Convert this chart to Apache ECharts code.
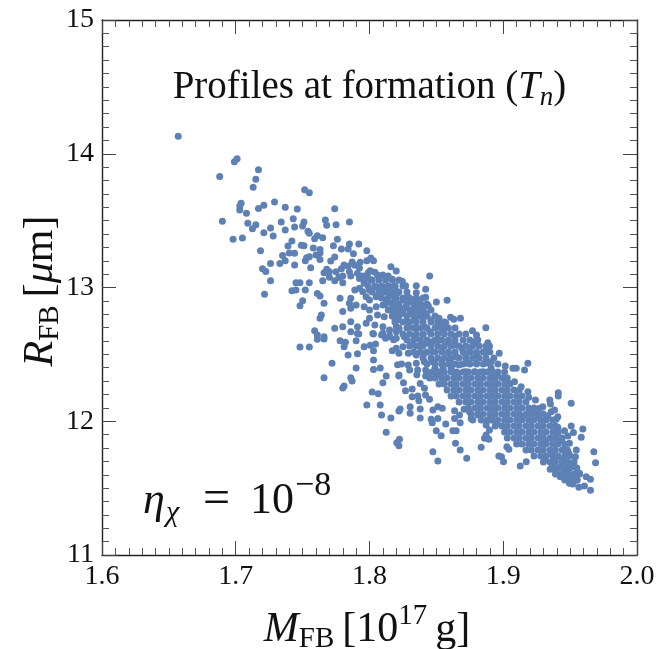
<!DOCTYPE html>
<html>
<head>
<meta charset="utf-8">
<script src="https://cdn.jsdelivr.net/npm/echarts@6/dist/echarts.min.js"></script>
<style>
  html, body { margin: 0; padding: 0; background: #fff; }
  #chart { width: 659px; height: 649px; }
</style>
</head>
<body>
<div id="chart"></div>
<script>
// axis tick labels
var xTickLabels = ['1.6', '1.7', '1.8', '1.9', '2.0'];
var yTickLabels = ['11', '12', '13', '14', '15'];

// scattered points [M_FB, R_FB]
var upperPts = [
  [1.657,14.13],[1.701,13.963],[1.699,13.94],[1.688,13.83],[1.717,13.88],[1.715,13.81],[1.713,13.75],
  [1.704,13.63],[1.703,13.61],[1.703,13.58],[1.708,13.555],[1.729,13.64],[1.721,13.615],[1.717,13.59],
  [1.737,13.60],[1.690,13.495],[1.709,13.48],[1.715,13.47],[1.7125,13.44],[1.726,13.445],[1.721,13.41],
  [1.728,13.385],[1.734,13.49],[1.737,13.43],[1.698,13.36],[1.705,13.37],[1.7185,13.275],[1.739,13.31],
  [1.735,13.24],[1.737,13.20],[1.733,13.18],[1.726,13.18],[1.72,13.14],[1.7225,13.12],[1.726,13.05],[1.7215,12.95],
  [1.7515,13.73],[1.755,13.709],[1.746,13.587],[1.774,13.589],[1.743,13.514],[1.751,13.49],[1.750,13.46],
  [1.767,13.505],[1.768,13.465],[1.775,13.47],[1.785,13.49],[1.744,13.452],[1.754,13.42],[1.755,13.405],
  [1.759,13.365],[1.761,13.387],[1.765,13.372],[1.776,13.36],[1.742,13.348],[1.749,13.315],[1.751,13.313],
  [1.758,13.295],[1.763,13.285],[1.763,13.258],[1.773,13.313],[1.779,13.288],[1.785,13.325],[1.784,13.288],
  [1.792,13.325],[1.798,13.275],[1.788,13.253],[1.740,13.258],[1.744,13.256],[1.753,13.223],[1.755,13.23],
  [1.760,13.243],[1.763,13.21],[1.752,13.20],[1.744,13.168],[1.756,13.148],[1.771,13.198],[1.774,13.228],
  [1.779,13.14],[1.781,13.168],[1.784,13.158],[1.787,13.19],[1.789,13.166],[1.793,13.188],[1.7925,13.146],
  [1.798,13.20],[1.801,13.22],[1.803,13.20],[1.768,13.136],[1.766,13.11],[1.770,13.118],[1.775,13.118],
  [1.770,13.076],[1.765,13.051],[1.774,13.051],[1.777,13.074],[1.780,13.086],[1.780,13.036],[1.785,13.118],
  [1.786,13.086],[1.791,13.106],[1.7925,13.068],[1.795,13.086],[1.799,13.11],[1.8005,13.126],[1.804,13.114],
  [1.806,13.094],[1.810,13.094],[1.814,13.086],[1.817,13.061],[1.820,13.123],[1.819,13.014],[1.799,13.068],
  [1.801,13.056],[1.796,13.031],[1.7925,12.994],[1.789,12.981],[1.795,12.969],[1.800,12.981],[1.805,13.006],
  [1.810,13.006],[1.809,12.956],[1.815,12.981],[1.819,12.956],[1.805,12.931],[1.800,12.907],[1.7975,12.931],
  [1.786,12.919],[1.785,12.882],[1.790,12.869],[1.786,12.845],[1.796,12.857],[1.800,12.832],[1.805,12.857],
  [1.810,12.869],[1.8125,12.907],[1.817,12.882],[1.820,12.919],[1.816,12.832],[1.806,12.794],[1.811,12.782],
  [1.819,12.77],[1.800,12.77],[1.7975,12.732],[1.804,12.72],[1.810,12.707],[1.815,12.682],[1.820,12.707],
  [1.8025,12.657],[1.809,12.645],[1.763,12.936],[1.761,12.956],[1.766,12.882],[1.778,12.919],[1.780,12.82],
  [1.764,12.794],[1.763,12.77],[1.745,13.036],[1.748,13.036],[1.742,12.976],[1.745,12.981],[1.752,12.981],
  [1.755,13.036],[1.750,12.901],[1.748,12.864],[1.780,12.707],[1.774,12.695],[1.786,12.744],[1.791,12.707],
  [1.791,12.657],[1.759,12.677],[1.761,12.645],[1.766,12.632]
];

var lowerLeftPts = [
  [1.761,12.613],[1.766,12.615],[1.786,12.67],[1.748,12.555],[1.755,12.555],[1.778,12.602],[1.782,12.59],
  [1.781,12.557],[1.790,12.602],[1.792,12.652],[1.796,12.557],[1.8005,12.568],[1.8045,12.578],[1.803,12.528],
  [1.803,12.652],[1.784,12.495],[1.791,12.505],[1.772,12.433],[1.803,12.458],[1.790,12.398],[1.803,12.386],
  [1.808,12.398],[1.8125,12.338],[1.810,12.288],[1.786,12.326],[1.787,12.301],[1.766,12.326],[1.781,12.264],
  [1.780,12.249],[1.802,12.219],[1.8065,12.206],[1.798,12.122],[1.808,12.122],[1.809,12.047],[1.816,12.024],
  [1.8125,11.917],[1.822,12.077],[1.821,12.423],[1.822,12.338],[1.817,12.528],[1.81,12.66],[1.815,12.64],
  [1.82,12.67],[1.812,12.62],[1.818,12.61],
  [1.8254,12.288],[1.8269,12.228],[1.8319,12.241],[1.8354,12.348],[1.8379,12.283],[1.8361,12.189],
  [1.8369,12.154],[1.8411,12.246],[1.8419,12.196],[1.8449,12.164],[1.8319,12.184],[1.8304,12.109],
  [1.8304,12.059],[1.8229,12.092],[1.8379,12.092],[1.8474,12.084],[1.8511,12.109],[1.8544,12.097],
  [1.8461,12.015],[1.8469,11.989],[1.8511,12.02],[1.857,11.979],[1.8499,11.929],[1.8536,11.892],
  [1.8636,12.079],[1.8636,12.02],[1.8673,12.047],[1.8678,11.989],[1.8648,11.929],[1.8623,11.929],
  [1.8643,11.835],[1.8678,11.785],[1.8224,11.865],[1.8204,11.84],[1.822,11.817],[1.8474,11.772],
  [1.8511,11.703],[1.8727,11.723],[1.8835,11.805],[1.886,11.872],[1.8892,11.865],[1.8872,11.897],
  [1.8897,11.935],[1.8967,11.74],[1.8707,12.089],[1.8748,12.071],[1.876,12.02],[1.8772,12.009],
  [1.881,12.047],[1.8835,12.009],[1.8872,11.972],[1.891,12.009],[1.8951,11.985],[1.8379,12.025]
];

var middlePts = [
  [1.816,13.156],[1.845,13.086],[1.8245,13.046],[1.827,13.014],[1.835,13.014],[1.842,12.986],[1.815,13.006],
  [1.819,12.994],[1.821,12.961],[1.816,12.944],[1.835,12.961],[1.829,12.927],[1.842,12.927],[1.850,12.892],
  [1.858,12.904],[1.825,12.907],[1.832,12.894],[1.837,12.901],[1.819,12.869],[1.822,12.844],[1.827,12.857],
  [1.834,12.857],[1.839,12.869],[1.844,12.862],[1.820,12.82],[1.825,12.807],[1.831,12.807],[1.837,12.82],
  [1.842,12.807],[1.821,12.757],[1.827,12.744],[1.834,12.757],[1.840,12.77],[1.846,12.757],[1.852,12.77],
  [1.8606,12.777],[1.863,12.762],[1.868,12.77],[1.857,12.737],[1.854,12.727],[1.850,12.702],[1.855,12.682],
  [1.822,12.687],[1.829,12.702],[1.835,12.695],[1.841,12.707],[1.845,12.67],[1.840,12.645],[1.834,12.632],
  [1.826,12.632],[1.820,12.62],[1.815,12.632],[1.8636,12.637],[1.877,12.677],[1.880,12.645],[1.887,12.70],
  [1.881,12.607],[1.8785,12.583],[1.8885,12.587],[1.8897,12.563],[1.887,12.52],[1.875,12.533],[1.880,12.495],
  [1.872,12.495],[1.869,12.545],[1.8636,12.57],[1.859,12.595],[1.852,12.607],[1.847,12.595],[1.842,12.583],
  [1.837,12.563],[1.831,12.57],[1.825,12.557],[1.820,12.545],[1.822,12.508],[1.829,12.508],[1.835,12.495],
  [1.841,12.508],[1.847,12.52],[1.854,12.533],[1.859,12.508],[1.865,12.483],[1.860,12.458],[1.854,12.458],
  [1.847,12.445],[1.841,12.445],[1.835,12.433],[1.829,12.421],[1.824,12.428],[1.830,12.383],[1.836,12.383],
  [1.842,12.383],[1.849,12.396],[1.855,12.396],[1.861,12.396],[1.867,12.421],[1.8735,12.433],[1.880,12.433],
  [1.886,12.433],[1.891,12.396],[1.885,12.371],[1.8785,12.371],[1.872,12.371],[1.866,12.358],[1.850,12.346],
  [1.842,12.338],[1.822,12.346],[1.893,12.333],[1.895,12.358],[1.897,12.508]
];

var lowerRightPts = [
  [1.891,12.445],[1.9015,12.413],[1.9072,12.396],[1.9097,12.396],[1.9184,12.433],[1.9159,12.383],
  [1.8951,12.346],[1.9009,12.321],[1.9034,12.288],[1.9084,12.296],[1.9134,12.258],[1.9184,12.221],
  [1.9191,12.179],[1.9241,12.159],[1.9348,12.159],[1.9353,12.129],[1.9411,12.213],[1.9411,12.189],
  [1.9508,12.134],[1.9271,12.097],[1.9296,12.109],[1.9196,12.084],[1.9221,12.071],[1.9358,12.071],
  [1.9383,12.084],[1.9408,12.034],[1.9333,12.039],[1.9258,12.039],[1.9146,12.034],
  [1.8987,11.735],[1.9002,11.698],[1.9027,11.81],[1.9042,11.79],[1.9127,11.665],[1.9172,11.698],
  [1.9351,11.641],[1.9508,11.965],[1.9525,11.915],[1.9595,11.942],[1.9583,11.88],[1.9546,11.785],
  [1.954,11.735],[1.9677,11.772],[1.969,11.69],[1.962,11.585],[1.9652,11.566],[1.9607,11.516],
  [1.9652,11.484],[1.9565,11.506],[1.9495,11.536],[1.952,11.531],[1.9508,11.566],[1.9553,11.561],
  [1.957,11.611],[1.9515,11.598],[1.947,11.585],[1.945,11.611],[1.9426,11.585],[1.9396,11.623],
  [1.9366,11.656],[1.9433,11.66],[1.9483,11.641],[1.9533,11.66],[1.9495,11.685],[1.9445,11.71],
  [1.949,11.76],[1.9458,11.79],[1.9495,11.835],[1.9433,11.86],[1.9483,11.89],[1.9458,11.929],
  [1.9408,11.91],[1.9408,11.955],[1.9396,12.015],[1.9321,11.84],[1.9358,11.76],[1.9383,11.698],
  [1.9408,11.735],[1.9308,11.71]
];

// the dense ridge, row by row: R of the row and the M values along it
var ridgeRowR = [13.056, 13.011, 12.966, 12.922, 12.877, 12.832, 12.787, 12.742, 12.697,
                 12.652, 12.607, 12.563, 12.518, 12.473, 12.428];
var ridgeRowM = [
  [1.796,1.802,1.807,1.812,1.817,1.822],
  [1.799,1.804,1.809,1.814,1.819,1.825],
  [1.802,1.807,1.812,1.817,1.822,1.828],
  [1.809,1.814,1.819,1.825,1.830,1.835,1.840],
  [1.812,1.817,1.822,1.828,1.833,1.838,1.843],
  [1.814,1.819,1.825,1.830,1.835,1.840,1.846],
  [1.817,1.822,1.828,1.833,1.838,1.843,1.849],
  [1.819,1.825,1.830,1.835,1.840,1.846,1.851,1.856],
  [1.822,1.828,1.833,1.838,1.843,1.849,1.854,1.859,1.864],
  [1.825,1.830,1.835,1.840,1.846,1.851,1.856,1.861,1.867,1.872],
  [1.828,1.833,1.838,1.843,1.849,1.854,1.859,1.864,1.870,1.875,1.880],
  [1.830,1.835,1.840,1.846,1.851,1.856,1.861,1.867,1.872,1.877,1.882,1.887],
  [1.833,1.838,1.843,1.849,1.854,1.859,1.864,1.870,1.875,1.880,1.885,1.890],
  [1.840,1.846,1.851,1.856,1.861,1.867,1.872,1.877,1.882,1.887,1.893],
  [1.843,1.849,1.854,1.859,1.864,1.870,1.875,1.880,1.885,1.890,1.896]
];

// the dense core further down
var coreRowR = [12.368, 12.323, 12.279, 12.234, 12.189, 12.144, 12.099, 12.054, 12.009, 11.965,
                11.920, 11.875, 11.830, 11.785, 11.740, 11.695, 11.650, 11.606, 11.561];
var coreRowM = [
  [1.843,1.847,1.852,1.856,1.861,1.865,1.870,1.874,1.879,1.883,1.888,1.892,1.896,1.901],
  [1.845,1.849,1.854,1.858,1.863,1.867,1.872,1.876,1.881,1.885,1.890,1.894,1.899,1.903],
  [1.852,1.856,1.861,1.865,1.870,1.874,1.879,1.883,1.888,1.892,1.896,1.901,1.905],
  [1.858,1.863,1.867,1.872,1.876,1.881,1.885,1.890,1.894,1.899,1.903,1.908,1.912],
  [1.861,1.865,1.870,1.874,1.879,1.883,1.888,1.892,1.896,1.901,1.905,1.910,1.914],
  [1.867,1.872,1.876,1.881,1.885,1.890,1.894,1.899,1.903,1.908,1.912,1.917],
  [1.874,1.879,1.883,1.888,1.892,1.896,1.901,1.905,1.910,1.914,1.919,1.923],
  [1.876,1.881,1.885,1.890,1.894,1.899,1.903,1.908,1.912,1.917,1.921,1.926,1.930],
  [1.888,1.892,1.896,1.901,1.905,1.910,1.914,1.919,1.923,1.928,1.932,1.937],
  [1.894,1.899,1.903,1.908,1.912,1.917,1.921,1.926,1.930,1.935,1.939],
  [1.901,1.905,1.910,1.914,1.919,1.923,1.928,1.932,1.937,1.941],
  [1.903,1.908,1.912,1.917,1.921,1.926,1.930,1.935,1.939,1.944],
  [1.910,1.914,1.919,1.923,1.928,1.932,1.937,1.941,1.946],
  [1.917,1.921,1.926,1.930,1.935,1.939,1.944,1.948],
  [1.923,1.928,1.932,1.937,1.941,1.946,1.950],
  [1.930,1.935,1.939,1.944,1.948,1.953],
  [1.937,1.941,1.946,1.950,1.955],
  [1.939,1.944,1.948,1.953,1.957],
  [1.946,1.950,1.955]
];

// generic family: the named serif face kept falling back to a sans face in this page
var SERIF = 'serif';
var INK = '#111';
var DOT = '#5E81B5';

function rowsToPts(rowR, rowM) {
  var out = [];
  rowR.forEach(function (r, i) {
    rowM[i].forEach(function (m) { out.push([m, r]); });
  });
  return out;
}
var allPts = upperPts.concat(middlePts, lowerLeftPts, lowerRightPts,
  rowsToPts(ridgeRowR, ridgeRowM), rowsToPts(coreRowR, coreRowM));

function frameAxis(pos, isX, showLabel, labels) {
  return {
    type: 'value',
    position: pos,
    min: isX ? 1.6 : 11,
    max: isX ? 2.0 : 15,
    interval: isX ? 0.1 : 1,
    splitLine: { show: false },
    axisLine: { show: true, onZero: false, lineStyle: { color: '#222', width: 1.4 } },
    axisTick: { show: true, inside: true, length: 14, lineStyle: { color: '#444', width: 1 } },
    minorTick: { show: true, splitNumber: 10, length: 7, lineStyle: { color: '#555', width: 1 } },
    axisLabel: {
      show: showLabel,
      color: INK,
      fontFamily: SERIF,
      fontSize: 28,
      margin: 8,
      formatter: function (v) {
        var i = isX ? Math.round((v - 1.6) / 0.1) : Math.round(v - 11);
        return labels[i];
      }
    }
  };
}

var chart = echarts.init(document.getElementById('chart'), null, { renderer: 'canvas' });
chart.setOption({
  backgroundColor: '#fff',
  animation: false,
  textStyle: { fontFamily: SERIF },
  grid: { left: 102, right: 22, top: 20, bottom: 94, containLabel: false },
  xAxis: [
    frameAxis('bottom', true, true, xTickLabels),
    frameAxis('top', true, false, xTickLabels)
  ],
  yAxis: [
    frameAxis('left', false, true, yTickLabels),
    frameAxis('right', false, false, yTickLabels)
  ],
  series: [{
    type: 'scatter',
    xAxisIndex: 0,
    yAxisIndex: 0,
    symbol: 'circle',
    symbolSize: 7,
    itemStyle: { color: DOT, opacity: 1 },
    data: allPts
  }]
});

// text pieces laid out with canvas metrics; base is the baseline in pixels
var mctx = document.createElement('canvas').getContext('2d');
function cssFont(p) { return (p.it ? 'italic ' : 'normal ') + p.s + 'px ' + SERIF; }
function midToBase(p) {
  mctx.font = cssFont(p);
  mctx.textBaseline = 'middle';
  return mctx.measureText('H').actualBoundingBoxDescent;
}
function textRun(pieces, x0, base, centred) {
  var w = 0;
  pieces.forEach(function (p) {
    mctx.font = cssFont(p);
    p.w = mctx.measureText(p.t).width;
    w += p.w + (p.gap || 0);
  });
  var x = centred ? x0 - w / 2 : x0;
  return pieces.map(function (p) {
    if (p.at != null) x = p.at;
    var el = {
      type: 'text',
      x: x,
      y: base + (p.dy || 0) - midToBase(p),
      style: {
        text: p.t,
        fontFamily: SERIF,
        fontSize: p.s,
        fontStyle: p.it ? 'italic' : 'normal',
        fill: INK,
        textAlign: 'left',
        textVerticalAlign: 'middle'
      }
    };
    x += p.w + (p.gap || 0);
    return el;
  });
}

var titleEls = textRun([
  { t: 'Profiles at formation (', s: 39 },
  { t: 'T', s: 39, it: true },
  { t: 'n', s: 27, it: true, dy: 7 },
  { t: ')', s: 39 }
], 369.5, 98, true);

var etaEls = textRun([
  { t: '\u03b7', s: 44, it: true, at: 143 },
  { t: '\u03c7', s: 30, it: true, dy: 8, at: 166 },
  { t: '=', s: 48, at: 203 },
  { t: '10', s: 44, at: 250 },
  { t: '\u22128', s: 34, dy: -18, at: 295 }
], 143, 513, false);

var xNameEls = textRun([
  { t: 'M', s: 42, it: true },
  { t: 'FB', s: 29, dy: 6, gap: 8 },
  { t: '[10', s: 42 },
  { t: '17', s: 29, dy: -17, gap: 8 },
  { t: 'g]', s: 42 }
], 367, 641, true);

var yNameEls = textRun([
  { t: 'R', s: 42, it: true },
  { t: 'FB', s: 29, dy: 6, gap: 8 },
  { t: '[', s: 42 },
  { t: '\u03bc', s: 42, it: true },
  { t: 'm]', s: 42 }
], 0, 0, true);

chart.setOption({
  graphic: [
    { type: 'group', children: titleEls },
    { type: 'group', children: etaEls },
    { type: 'group', children: xNameEls },
    { type: 'group', x: 52, y: 291, rotation: Math.PI / 2, children: yNameEls }
  ]
});
</script>
</body>
</html>
